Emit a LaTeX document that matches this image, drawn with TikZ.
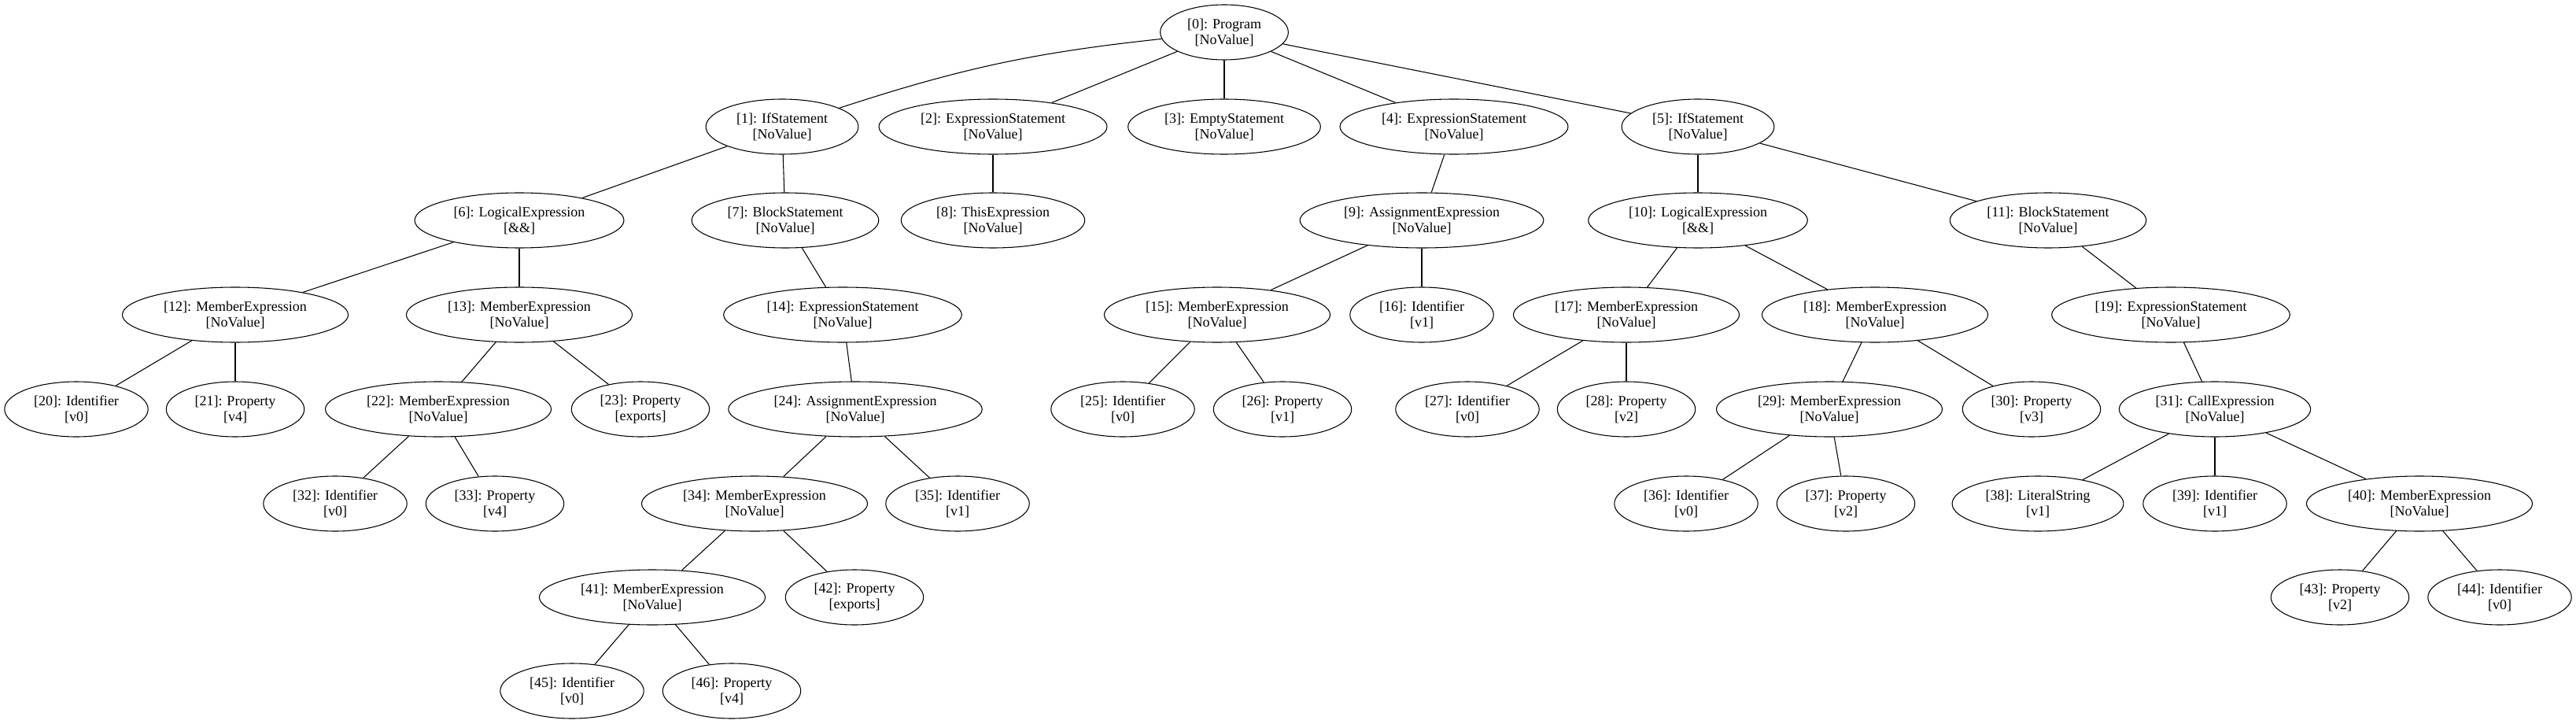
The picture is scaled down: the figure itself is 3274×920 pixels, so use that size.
\documentclass[tikz,border=0pt]{standalone}
\usepackage{fontspec}
\setmainfont{Liberation Serif}
\usepackage{tikz}
\usetikzlibrary{shapes.geometric}
\newcommand{\astlbl}[2]{#1\\{}[#2]}
\tikzset{
astnode/.style = {draw,ellipse,align=center,inner xsep=7.9pt,inner ysep=1pt,
  minimum height=52.5pt,minimum width=54pt,line width=0.8pt,
  font=\fontsize{13.5}{15}\selectfont},
astedge/.style = {line width=0.8pt}
}
\begin{document}
\begin{tikzpicture}[x=0.75pt,y=-0.75pt]

\useasboundingbox (0,0) rectangle (3274,920);

% row 0
\node (n0) at (1556,41) [astnode] {\astlbl{[0]: Program}{NoValue}};

% row 1
\node (n1) at (994,161)  [astnode] {\astlbl{[1]: IfStatement}{NoValue}};
\node (n2) at (1262,161) [astnode] {\astlbl{[2]: ExpressionStatement}{NoValue}};
\node (n3) at (1556,161) [astnode] {\astlbl{[3]: EmptyStatement}{NoValue}};
\node (n4) at (1848,161) [astnode] {\astlbl{[4]: ExpressionStatement}{NoValue}};
\node (n5) at (2158,161) [astnode] {\astlbl{[5]: IfStatement}{NoValue}};

% row 2
\node (n6)  at (660,280)  [astnode] {\astlbl{[6]: LogicalExpression}{\&\&}};
\node (n7)  at (998,280)  [astnode] {\astlbl{[7]: BlockStatement}{NoValue}};
\node (n8)  at (1262,280) [astnode] {\astlbl{[8]: ThisExpression}{NoValue}};
\node (n9)  at (1807,280) [astnode] {\astlbl{[9]: AssignmentExpression}{NoValue}};
\node (n10) at (2158,280) [astnode] {\astlbl{[10]: LogicalExpression}{\&\&}};
\node (n11) at (2603,280) [astnode] {\astlbl{[11]: BlockStatement}{NoValue}};

% row 3
\node (n12) at (299,400)  [astnode] {\astlbl{[12]: MemberExpression}{NoValue}};
\node (n13) at (660,400)  [astnode] {\astlbl{[13]: MemberExpression}{NoValue}};
\node (n14) at (1071,400) [astnode] {\astlbl{[14]: ExpressionStatement}{NoValue}};
\node (n15) at (1547,400) [astnode] {\astlbl{[15]: MemberExpression}{NoValue}};
\node (n16) at (1807,400) [astnode] {\astlbl{[16]: Identifier}{v1}};
\node (n17) at (2067,400) [astnode] {\astlbl{[17]: MemberExpression}{NoValue}};
\node (n18) at (2383,400) [astnode] {\astlbl{[18]: MemberExpression}{NoValue}};
\node (n19) at (2759,400) [astnode] {\astlbl{[19]: ExpressionStatement}{NoValue}};

% row 4
\node (n20) at (97,520)   [astnode] {\astlbl{[20]: Identifier}{v0}};
\node (n21) at (299,520)  [astnode] {\astlbl{[21]: Property}{v4}};
\node (n22) at (557,520)  [astnode] {\astlbl{[22]: MemberExpression}{NoValue}};
\node (n23) at (814,520)  [astnode] {\astlbl{[23]: Property}{exports}};
\node (n24) at (1087,520) [astnode] {\astlbl{[24]: AssignmentExpression}{NoValue}};
\node (n25) at (1427,520) [astnode] {\astlbl{[25]: Identifier}{v0}};
\node (n26) at (1630,520) [astnode] {\astlbl{[26]: Property}{v1}};
\node (n27) at (1865,520) [astnode] {\astlbl{[27]: Identifier}{v0}};
\node (n28) at (2067,520) [astnode] {\astlbl{[28]: Property}{v2}};
\node (n29) at (2325,520) [astnode] {\astlbl{[29]: MemberExpression}{NoValue}};
\node (n30) at (2582,520) [astnode] {\astlbl{[30]: Property}{v3}};
\node (n31) at (2815,520) [astnode] {\astlbl{[31]: CallExpression}{NoValue}};

% row 5
\node (n32) at (426,640)  [astnode] {\astlbl{[32]: Identifier}{v0}};
\node (n33) at (629,640)  [astnode] {\astlbl{[33]: Property}{v4}};
\node (n34) at (959,640)  [astnode] {\astlbl{[34]: MemberExpression}{NoValue}};
\node (n35) at (1217,640) [astnode] {\astlbl{[35]: Identifier}{v1}};
\node (n36) at (2143,640) [astnode] {\astlbl{[36]: Identifier}{v0}};
\node (n37) at (2346,640) [astnode] {\astlbl{[37]: Property}{v2}};
\node (n38) at (2590,640) [astnode] {\astlbl{[38]: LiteralString}{v1}};
\node (n39) at (2815,640) [astnode] {\astlbl{[39]: Identifier}{v1}};
\node (n40) at (3075,640) [astnode] {\astlbl{[40]: MemberExpression}{NoValue}};

% row 6
\node (n41) at (829,759)  [astnode] {\astlbl{[41]: MemberExpression}{NoValue}};
\node (n42) at (1086,759) [astnode] {\astlbl{[42]: Property}{exports}};
\node (n43) at (2974,759) [astnode] {\astlbl{[43]: Property}{v2}};
\node (n44) at (3177,759) [astnode] {\astlbl{[44]: Identifier}{v0}};

% row 7
\node (n45) at (727,878) [astnode] {\astlbl{[45]: Identifier}{v0}};
\node (n46) at (930,878) [astnode] {\astlbl{[46]: Property}{v4}};


\draw[astedge] (n0) to [bend right=6] (n1);
\draw[astedge] (n0) -- (n2);
\draw[astedge] (n0) -- (n3);
\draw[astedge] (n0) -- (n4);
\draw[astedge] (n0) -- (n5);

\draw[astedge] (n1) -- (n6);
\draw[astedge] (n1) -- (n7);
\draw[astedge] (n2) -- (n8);
\draw[astedge] (n4) -- (n9);
\draw[astedge] (n5) -- (n10);
\draw[astedge] (n5) -- (n11);

\draw[astedge] (n6) -- (n12);
\draw[astedge] (n6) -- (n13);
\draw[astedge] (n7) -- (n14);
\draw[astedge] (n9) -- (n15);
\draw[astedge] (n9) -- (n16);
\draw[astedge] (n10) -- (n17);
\draw[astedge] (n10) -- (n18);
\draw[astedge] (n11) -- (n19);

\draw[astedge] (n12) -- (n20);
\draw[astedge] (n12) -- (n21);
\draw[astedge] (n13) -- (n22);
\draw[astedge] (n13) -- (n23);
\draw[astedge] (n14) -- (n24);
\draw[astedge] (n15) -- (n25);
\draw[astedge] (n15) -- (n26);
\draw[astedge] (n17) -- (n27);
\draw[astedge] (n17) -- (n28);
\draw[astedge] (n18) -- (n29);
\draw[astedge] (n18) -- (n30);
\draw[astedge] (n19) -- (n31);

\draw[astedge] (n22) -- (n32);
\draw[astedge] (n22) -- (n33);
\draw[astedge] (n24) -- (n34);
\draw[astedge] (n24) -- (n35);
\draw[astedge] (n29) -- (n36);
\draw[astedge] (n29) -- (n37);
\draw[astedge] (n31) -- (n38);
\draw[astedge] (n31) -- (n39);
\draw[astedge] (n31) -- (n40);

\draw[astedge] (n34) -- (n41);
\draw[astedge] (n34) -- (n42);
\draw[astedge] (n40) -- (n43);
\draw[astedge] (n40) -- (n44);
\draw[astedge] (n41) -- (n45);
\draw[astedge] (n41) -- (n46);

\end{tikzpicture}
\end{document}
